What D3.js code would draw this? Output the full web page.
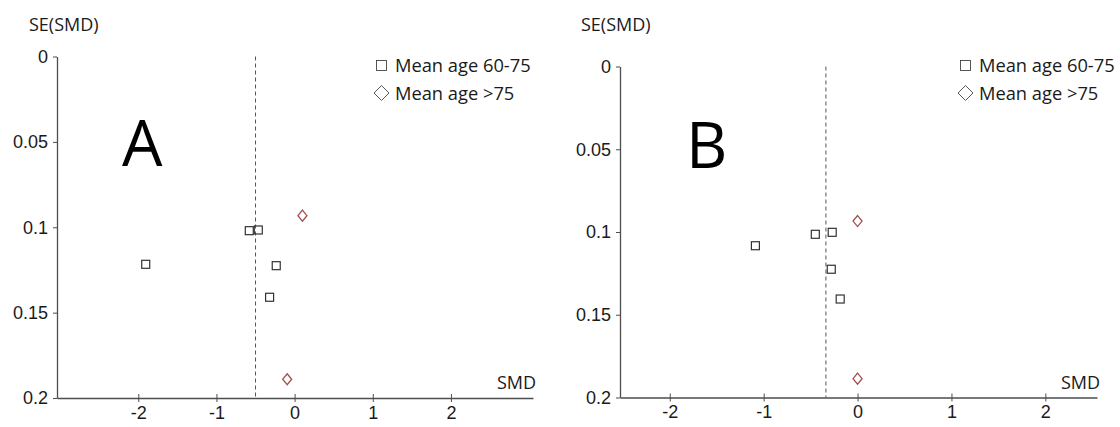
<!DOCTYPE html>
<html>
<head>
<meta charset="utf-8">
<script src="https://cdn.jsdelivr.net/npm/d3@7"></script>
<style>
  body { margin: 0; background: #fff; }
  svg { display: block; font-family: "Open Sans", sans-serif; }
</style>
</head>
<body>
<div id="chart"></div>
<script>
// tick values shared by both funnel plots
const xTicks = [-2, -1, 0, 1, 2];
const yTicks = [0, 0.05, 0.1, 0.15, 0.2];
const yTickLabels = ["0", "0.05", "0.1", "0.15", "0.2"];
const legendLabels = ["Mean age 60-75", "Mean age >75"];

// panel A
const aSquareSmd = [-0.58, -0.465, -1.905, -0.235, -0.32];
const aSquareSe = [0.102, 0.1016, 0.1217, 0.1225, 0.141];
const aDiamondSmd = [0.1, -0.095];
const aDiamondSe = [0.0932, 0.189];
const aPooled = -0.5;

// panel B
const bSquareSmd = [-1.088, -0.45, -0.27, -0.28, -0.185];
const bSquareSe = [0.1083, 0.1014, 0.1002, 0.1225, 0.1405];
const bDiamondSmd = [0, 0];
const bDiamondSe = [0.0934, 0.1886];
const bPooled = -0.337;

const width = 1120;
const height = 427;

const svg = d3
  .select("#chart")
  .append("svg")
  .attr("width", width)
  .attr("height", height);

const axisColor = "#4d4d4d";
const textColor = "#1a1a1a";

function drawPanel(p) {
  const x = d3.scaleLinear().domain(p.xDomain).range([p.left, p.right]);
  const y = d3.scaleLinear().domain([0, 0.2]).range([p.top, p.bottom]);
  const g = svg.append("g");

  // x axis (ticks cross the line)
  const xAxis = g
    .append("g")
    .attr("transform", `translate(0,${p.bottom})`)
    .call(d3.axisBottom(x).tickValues(xTicks).tickSizeOuter(0).tickSizeInner(4).tickFormat((d) => String(d)));
  xAxis.select(".domain").attr("stroke", axisColor).attr("stroke-width", 1.3);
  xAxis.selectAll(".tick line").attr("y1", -4).attr("y2", 4).attr("stroke", axisColor);
  xAxis
    .selectAll(".tick text")
    .attr("y", 8)
    .attr("fill", textColor)
    .style("font-size", "18px");

  // y axis
  const yAxis = g
    .append("g")
    .attr("transform", `translate(${p.left},0)`)
    .call(
      d3
        .axisLeft(y)
        .tickValues(yTicks)
        .tickSizeOuter(0)
        .tickSizeInner(4)
        .tickFormat((d, i) => yTickLabels[i])
    );
  yAxis.select(".domain").attr("stroke", axisColor).attr("stroke-width", 1.3);
  yAxis.selectAll(".tick line").attr("stroke", axisColor);
  yAxis
    .selectAll(".tick text")
    .attr("x", -9)
    .attr("fill", textColor)
    .style("font-size", "18px");

  // pooled estimate
  g.append("line")
    .attr("x1", x(p.pooled))
    .attr("x2", x(p.pooled))
    .attr("y1", y(0))
    .attr("y2", p.bottom)
    .attr("stroke", "#555")
    .attr("stroke-width", 1)
    .attr("stroke-dasharray", "4,3");

  const squares = p.squareSmd.map((d, i) => ({ smd: d, se: p.squareSe[i] }));
  const diamonds = p.diamondSmd.map((d, i) => ({ smd: d, se: p.diamondSe[i] }));

  g.append("g")
    .selectAll("rect")
    .data(squares)
    .join("rect")
    .attr("x", (d) => x(d.smd) - 4)
    .attr("y", (d) => y(d.se) - 4)
    .attr("width", 8)
    .attr("height", 8)
    .attr("fill", "none")
    .attr("stroke", "#333")
    .attr("stroke-width", 1.2);

  g.append("g")
    .selectAll("path")
    .data(diamonds)
    .join("path")
    .attr("d", "M0,-5.5L4.5,0L0,5.5L-4.5,0Z")
    .attr("transform", (d) => `translate(${x(d.smd)},${y(d.se)})`)
    .attr("fill", "none")
    .attr("stroke", "#a0504f")
    .attr("stroke-width", 1.3);

  // axis titles
  g.append("text")
    .attr("x", p.seLabelX)
    .attr("y", 31)
    .attr("fill", textColor)
    .style("font-size", "18px")
    .text("SE(SMD)");
  g.append("text")
    .attr("x", p.right + 3)
    .attr("y", 389)
    .attr("text-anchor", "end")
    .attr("fill", textColor)
    .style("font-size", "18px")
    .text("SMD");

  // panel letter
  g.append("text")
    .attr("x", p.letterX)
    .attr("y", p.letterY)
    .attr("fill", "#000")
    .style("font-size", "64px")
    .text(p.letter);

  // legend
  const leg = g.append("g").attr("transform", `translate(${p.legendX},0)`);
  leg.append("rect")
    .attr("x", 0.5)
    .attr("y", 60.5)
    .attr("width", 10)
    .attr("height", 10)
    .attr("fill", "none")
    .attr("stroke", "#444")
    .attr("stroke-width", 0.9);
  leg.append("path")
    .attr("d", "M5.5,85.5L13,93L5.5,100.5L-2,93Z")
    .attr("fill", "none")
    .attr("stroke", "#444")
    .attr("stroke-width", 0.9);
  leg.selectAll("text.leg")
    .data(legendLabels)
    .join("text")
    .attr("class", "leg")
    .attr("x", 19)
    .attr("y", (d, i) => 72 + i * 28)
    .attr("fill", textColor)
    .style("font-size", "18.3px")
    .text((d) => d);
}

drawPanel({
  letter: "A",
  xDomain: [-3.04, 3.05],
  left: 57,
  right: 533,
  top: 56.5,
  bottom: 398,
  pooled: aPooled,
  squareSmd: aSquareSmd,
  squareSe: aSquareSe,
  diamondSmd: aDiamondSmd,
  diamondSe: aDiamondSe,
  seLabelX: 29,
  letterX: 122,
  letterY: 166,
  legendX: 376,
});

drawPanel({
  letter: "B",
  xDomain: [-2.53, 2.55],
  left: 620,
  right: 1097,
  top: 66.5,
  bottom: 397.5,
  pooled: bPooled,
  squareSmd: bSquareSmd,
  squareSe: bSquareSe,
  diamondSmd: bDiamondSmd,
  diamondSe: bDiamondSe,
  seLabelX: 581,
  letterX: 686,
  letterY: 168,
  legendX: 960,
});
</script>
</body>
</html>
